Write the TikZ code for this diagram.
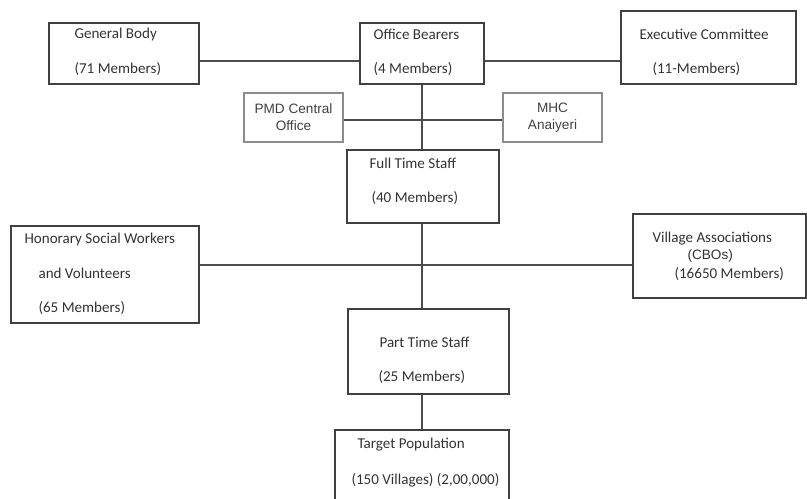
\documentclass[tikz,border=0pt]{standalone}
\usepackage{fontspec}
\setmainfont{Carlito}
\newfontfamily\arialfont{Liberation Sans}
\usetikzlibrary{positioning, calc}

\begin{document}
\begin{tikzpicture}[
    x=0.75pt, y=-0.75pt,
    line width=0.8pt,
    box/.style={draw=black!75, inner sep=0pt},
    smallbox/.style={draw=black!45, inner sep=0pt, align=center,
        font=\arialfont\fontsize{10.2}{12.75}\selectfont, text=black!75},
    txt/.style={anchor=west, inner sep=0pt, text=black!80,
        font=\fontsize{11.3}{13.5}\selectfont},
    link/.style={draw=black!70}
]
    \useasboundingbox (0,0) rectangle (807,499);
    \clip (0,0) rectangle (807,499);

    % Boxes: name / left / top / right / bottom (pixels)
    \foreach \n/\xa/\ya/\xb/\yb in {gb/49/23/199/84, ob/360/23/484/84,
        ec/621/11/796/84, fts/347/150/499/223, hsw/11/226/199/323,
        va/633/214/806/298, pts/348/309/509/394, tp/335/430/509/510} {
        \node[box, minimum width={(\xb-\xa)*0.75pt},
              minimum height={(\yb-\ya)*0.75pt}]
            (\n) at ({(\xa+\xb)/2},{(\ya+\yb)/2}) {};
    }

    % Offices in between
    \node[smallbox, minimum width=74.25pt, minimum height=36.75pt]
        (pmd) at (293.5,117.5) {PMD Central\\Office};
    \node[smallbox, minimum width=74.25pt, minimum height=36.75pt]
        (mhc) at (552.5,117.5) {MHC\\Anaiyeri};

    % Box texts
    \foreach \x/\y/\t [count=\i] in {74/34/General Body, 74/69/(71 Members),
        373/34/Office Bearers, 373/69/(4 Members),
        639/34/Executive Committee, 652/69/(11-Members),
        369/163/Full Time Staff, 371/198/(40 Members),
        24/239/Honorary Social Workers, 38/273/and Volunteers, 38/308/(65 Members),
        652/239/Village Associations, 674/274/(16650 Members),
        379/342/Part Time Staff, 378/377/(25 Members),
        357/445/Target Population, 351/480/{(150 Villages) (2,00,000)}} {
        \node[txt] (t\i) at (\x,\y) {\t};
    }
    \node[txt, font=\arialfont\fontsize{10.2}{12}\selectfont] (cbo) at (687,256) {(CBOs)};

    % Levels of the connectors
    \coordinate (top) at (0,61);
    \coordinate (mid) at (0,120);
    \coordinate (low) at (0,265);

    % Connectors
    \path[link] (gb.east |- top) -- (ob.west |- top)
                (ob.east |- top) -- (ec.west |- top)
                (pmd.east |- mid) -- (mhc.west |- mid)
                (ob.south) -- (ob.south |- fts.north)
                (hsw.east |- low) -- (va.west |- low)
                (ob.south |- fts.south) -- (ob.south |- pts.north)
                (ob.south |- pts.south) -- (ob.south |- tp.north);

\end{tikzpicture}
\end{document}
